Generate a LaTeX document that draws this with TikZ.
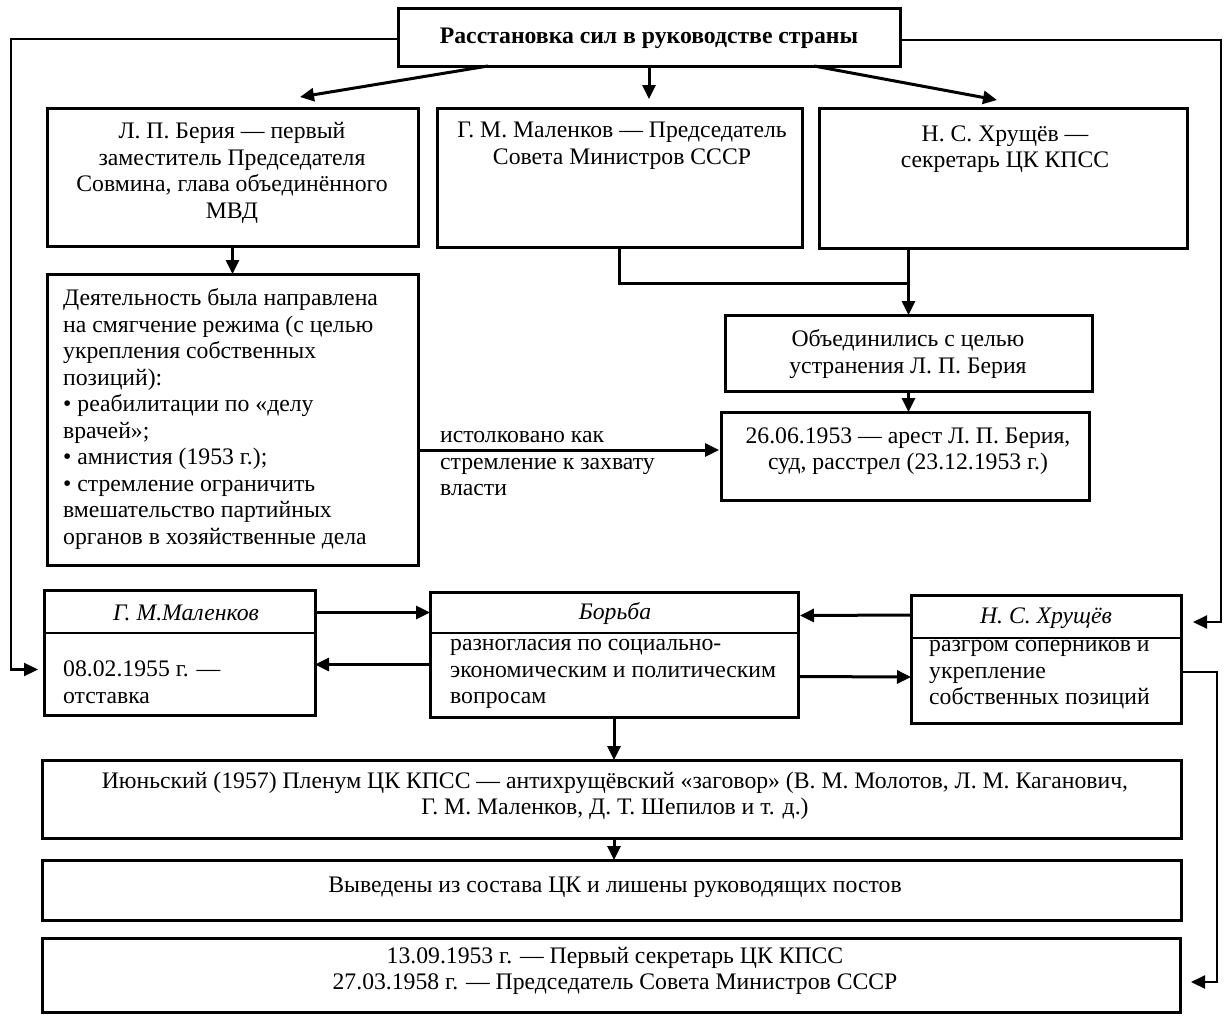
\documentclass[tikz,border=0pt]{standalone}
\usepackage{fontspec}
\setmainfont{Liberation Serif}
\usetikzlibrary{arrows.meta,calc}
\begin{document}
\begin{tikzpicture}[x=1pt,y=-1pt,
  box/.style={draw, line width=3pt, inner sep=0pt, outer sep=0pt},
  conn/.style={line width=3pt},
  thinconn/.style={line width=2.2pt},
  arr/.style={conn, -{Triangle[length=14pt,width=13pt]}},
  thinarr/.style={thinconn, -{Triangle[length=14pt,width=13pt]}},
  txt/.style={inner sep=0pt, font=\fontsize{23.7}{26.5}\selectfont},
  hdr/.style={inner sep=0pt, font=\fontsize{23.7}{26.5}\selectfont\itshape},
  divider/.style={line width=2pt}]
\useasboundingbox (0,0) rectangle (1224,1018);
\fill[white] (0,0) rectangle (1224,1018);

% boxes
\node[box, minimum width=502pt, minimum height=58pt] (top) at (649,37) {};
\node[box, minimum width=371pt, minimum height=138pt] (beria) at (232.5,177) {};
\node[box, minimum width=365pt, minimum height=139pt] (malen) at (619.5,177.5) {};
\node[box, minimum width=368pt, minimum height=140pt] (khrush) at (1003,178) {};
\node[box, minimum width=371pt, minimum height=291pt] (activity) at (232.5,419.5) {};
\node[box, minimum width=367pt, minimum height=76pt] (unite) at (908.5,353) {};
\node[box, minimum width=368pt, minimum height=88pt] (arrest) at (905,456) {};
\node[box, minimum width=271pt, minimum height=125pt] (malen2) at (179.5,652.5) {};
\node[box, minimum width=368pt, minimum height=125pt] (borba) at (614,654.5) {};
\node[box, minimum width=270pt, minimum height=128pt] (khrush2) at (1046,659) {};
\node[box, minimum width=1139pt, minimum height=78pt] (plenum) at (611.5,799) {};
\node[box, minimum width=1139pt, minimum height=60pt] (vyved) at (611.5,890) {};
\node[box, minimum width=1138pt, minimum height=74pt] (last) at (611,975) {};

% dividers
\draw[divider] (malen2.west |- 0,633) -- (malen2.east |- 0,633);
\draw[divider] (borba.west |- 0,633) -- (borba.east |- 0,633);
\draw[divider] (khrush2.west |- 0,638) -- (khrush2.east |- 0,638);

% texts
\node[txt, font=\fontsize{23.7}{26.5}\selectfont\bfseries] (ttop) at (649,38) {Расстановка сил в руководстве страны};
\node[txt, align=center] (tberia) at (232,173) {Л. П. Берия — первый\\заместитель Председателя\\Совмина, глава объединённого\\МВД};
\node[txt, align=center] (tmalen) at (622,146) {Г. М. Маленков — Председатель\\Совета Министров СССР};
\node[txt, align=center] (tkhrush) at (1005,149) {Н. С. Хрущёв —\\секретарь ЦК КПСС};
\node[txt, align=left, anchor=west] (tact) at (63,419) {Деятельность была направлена\\на смягчение режима (с целью\\укрепления собственных\\позиций):\\• реабилитации по «делу\\врачей»;\\• амнистия (1953 г.);\\• стремление ограничить\\вмешательство партийных\\органов в хозяйственные дела};
\node[txt, align=left, anchor=west] (tlab) at (440,464) {истолковано как\\стремление к захвату\\власти};
\node[txt, align=center] (tunite) at (908,354) {Объединились с целью\\устранения Л. П. Берия};
\node[txt, align=center] (tarrest) at (908,451) {26.06.1953 — арест Л. П. Берия,\\суд, расстрел (23.12.1953 г.)};
\node[hdr] (hmalen2) at (186,613) {Г. М.Маленков};
\node[txt, align=left, anchor=west] (tmalen2) at (63,682) {08.02.1955 г. —\\отставка};
\node[hdr] (hborba) at (615,614) {Борьба};
\node[txt, align=left, anchor=west] (tborba) at (450,674) {разногласия по социально-\\экономическим и политическим\\вопросам};
\node[hdr] (hkhrush2) at (1046,618) {Н. С. Хрущёв};
\node[txt, align=left, anchor=west] (tkhrush2) at (929,675) {разгром соперников и\\укрепление\\собственных позиций};
\node[txt, align=center] (tplenum) at (615,796) {Июньский (1957) Пленум ЦК КПСС — антихрущёвский «заговор» (В. М. Молотов, Л. М. Каганович,\\Г. М. Маленков, Д. Т. Шепилов и т. д.)};
\node[txt, align=center] (tvyved) at (615,887) {Выведены из состава ЦК и лишены руководящих постов};
\node[txt, align=center] (tlast) at (615,971) {13.09.1953 г. — Первый секретарь ЦК КПСС\\27.03.1958 г. — Председатель Совета Министров СССР};

% connectors
\draw[arr] ($(top.south west)+(90,0)$) -- ($(beria.north west)+(253,-11)$);
\draw[arr] (top.south) -- ($(top.south |- malen.north)+(0,-9)$);
\draw[arr] ($(top.south west)+(416,0)$) -- ($(khrush.north west)+(178,-8)$);
\draw[arr] (beria.south) -- (activity.north);
\coordinate (j) at (unite.north |- 0,283);
\draw[conn] (malen.south) |- (j);
\draw[arr] (khrush.south -| unite.north) -- (unite.north);
\draw[arr] (unite.south) -- (unite.south |- arrest.north);
\coordinate (ain) at ($(arrest.west)+(-2,-6)$);
\draw[arr] (activity.east |- ain) -- (ain);
% left loop
\coordinate (lin) at ($(malen2.west)+(-6,17)$);
\draw[thinarr] ($(top.west)+(0,2)$) -| (11,400) |- (lin);
% right loop
\coordinate (rin) at ($(khrush2.east)+(12,-37)$);
\draw[thinarr] ($(top.east)+(0,3)$) -| (1221,400) |- (rin);
% row 4 arrows
\draw[arr] ($(malen2.east)+(0,-40)$) -- ($(borba.west)+(0,-42)$);
\draw[arr] ($(borba.west)+(0,10)$) -- ($(malen2.east)+(0,12)$);
\draw[arr] ($(khrush2.west)+(0,-44)$) -- ($(borba.east)+(2,-39)$);
\draw[arr] ($(borba.east)+(0,22)$) -- ($(khrush2.west)+(0,18)$);
% right outgoing loop
\coordinate (lastin) at ($(last.east)+(11,7)$);
\draw[thinarr] ($(khrush2.east)+(0,13)$) -| (1217,800) |- (lastin);
% down
\draw[arr] (borba.south) -- (borba.south |- plenum.north);
\draw[arr] (borba.south |- plenum.south) -- (borba.south |- vyved.north);
\end{tikzpicture}
\end{document}
